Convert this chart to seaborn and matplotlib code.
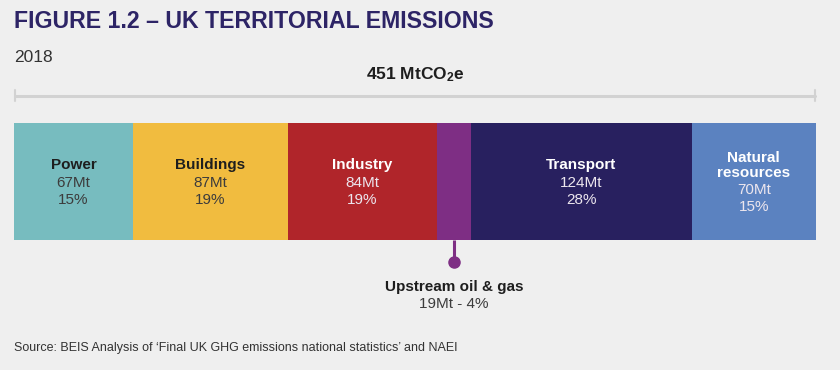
import numpy as np
import matplotlib
matplotlib.use("Agg")
import matplotlib.pyplot as plt
import seaborn as sns

# sector data (MtCO2e, 2018)
sectors = ["Power", "Buildings", "Industry", "Upstream oil & gas", "Transport", "Natural\nresources"]
values = [67, 87, 84, 19, 124, 70]
shares = [15, 19, 19, 4, 28, 15]
colors = ["#77bcbf", "#f1bc3f", "#b0252a", "#7e2e84", "#28205f", "#5b82c0"]
text_dark = [True, True, False, False, False, False]
total = 451

sns.set_theme(style="white")
plt.rcParams["font.family"] = ["Liberation Sans", "DejaVu Sans"]
plt.rcParams["mathtext.fontset"] = "custom"
plt.rcParams["mathtext.rm"] = "Liberation Sans"
plt.rcParams["mathtext.bf"] = "Liberation Sans:bold"
bg = "#efefef"

fig = plt.figure(figsize=(8.4, 3.7), dpi=100, facecolor=bg)
ax = fig.add_axes([14 / 840, 130 / 370, 802 / 840, 117 / 370])
ax.set_facecolor(bg)

# stacked horizontal bar: draw cumulative totals from largest to smallest
cum = np.cumsum(values)
for i in range(len(values) - 1, -1, -1):
    sns.barplot(x=[cum[i]], y=[0], orient="h", color=colors[i], width=1.0,
                saturation=1, ax=ax, edgecolor="none")

ax.set_xlim(0, total)
ax.set_ylim(0.5, -0.5)
ax.axis("off")

starts = cum - np.array(values)
mids = starts + np.array(values) / 2
fs = 11
for i, name in enumerate(sectors):
    if i == 3:
        continue
    c_name = "#1e1e1e" if text_dark[i] else "white"
    c_val = "#3c3c3c" if text_dark[i] else "#ece6ee"
    two = "\n" in name
    y_name = -0.137 if two else -0.141
    y_mt = 0.073 if two else 0.013
    ax.text(mids[i], y_name, name, ha="center", va="center", fontsize=fs,
            fontweight="bold", color=c_name, linespacing=1.15)
    ax.text(mids[i], y_mt, f"{values[i]}Mt", ha="center", va="center",
            fontsize=fs, color=c_val)
    ax.text(mids[i], y_mt + 0.142, f"{shares[i]}%", ha="center", va="center",
            fontsize=fs, color=c_val)

# upstream oil & gas callout
ax.plot([mids[3], mids[3]], [0.5, 0.69], color=colors[3], lw=2.2,
        clip_on=False, solid_capstyle="butt")
ax.plot(mids[3], 0.69, "o", color=colors[3], ms=8, clip_on=False)
ax.text(mids[3], 0.905, "Upstream oil & gas", ha="center", va="center",
        fontsize=fs, fontweight="bold", color="#1e1e1e", clip_on=False)
ax.text(mids[3], 1.05, f"{values[3]}Mt - {shares[3]}%", ha="center",
        va="center", fontsize=fs, color="#3c3c3c", clip_on=False)

# total bracket above bar
ax.plot([0.8, total - 0.8], [-0.735, -0.735], color="#d2d2d2", lw=2.2, clip_on=False)
for xe in [0.8, total - 0.8]:
    ax.plot([xe, xe], [-0.785, -0.685], color="#d2d2d2", lw=1.5, clip_on=False)

fig.text(14 / 840, 1 - 22 / 370, "FIGURE 1.2 – UK TERRITORIAL EMISSIONS",
         fontsize=16.7, fontweight="bold", color="#2d2466", va="center", ha="left")
fig.text(14 / 840, 1 - 57 / 370, "2018", fontsize=12.5, color="#333333",
         va="center", ha="left")
fig.text(415 / 840, 1 - 75 / 370, "451 MtCO$\\mathbf{_2}$e", fontsize=12.5,
         fontweight="bold", color="#1e1e1e", va="center", ha="center")
fig.text(14 / 840, 1 - 348 / 370,
         "Source: BEIS Analysis of ‘Final UK GHG emissions national statistics’ and NAEI",
         fontsize=9, color="#333333", va="center", ha="left")

fig.savefig("out.png", dpi=100, facecolor=bg)
